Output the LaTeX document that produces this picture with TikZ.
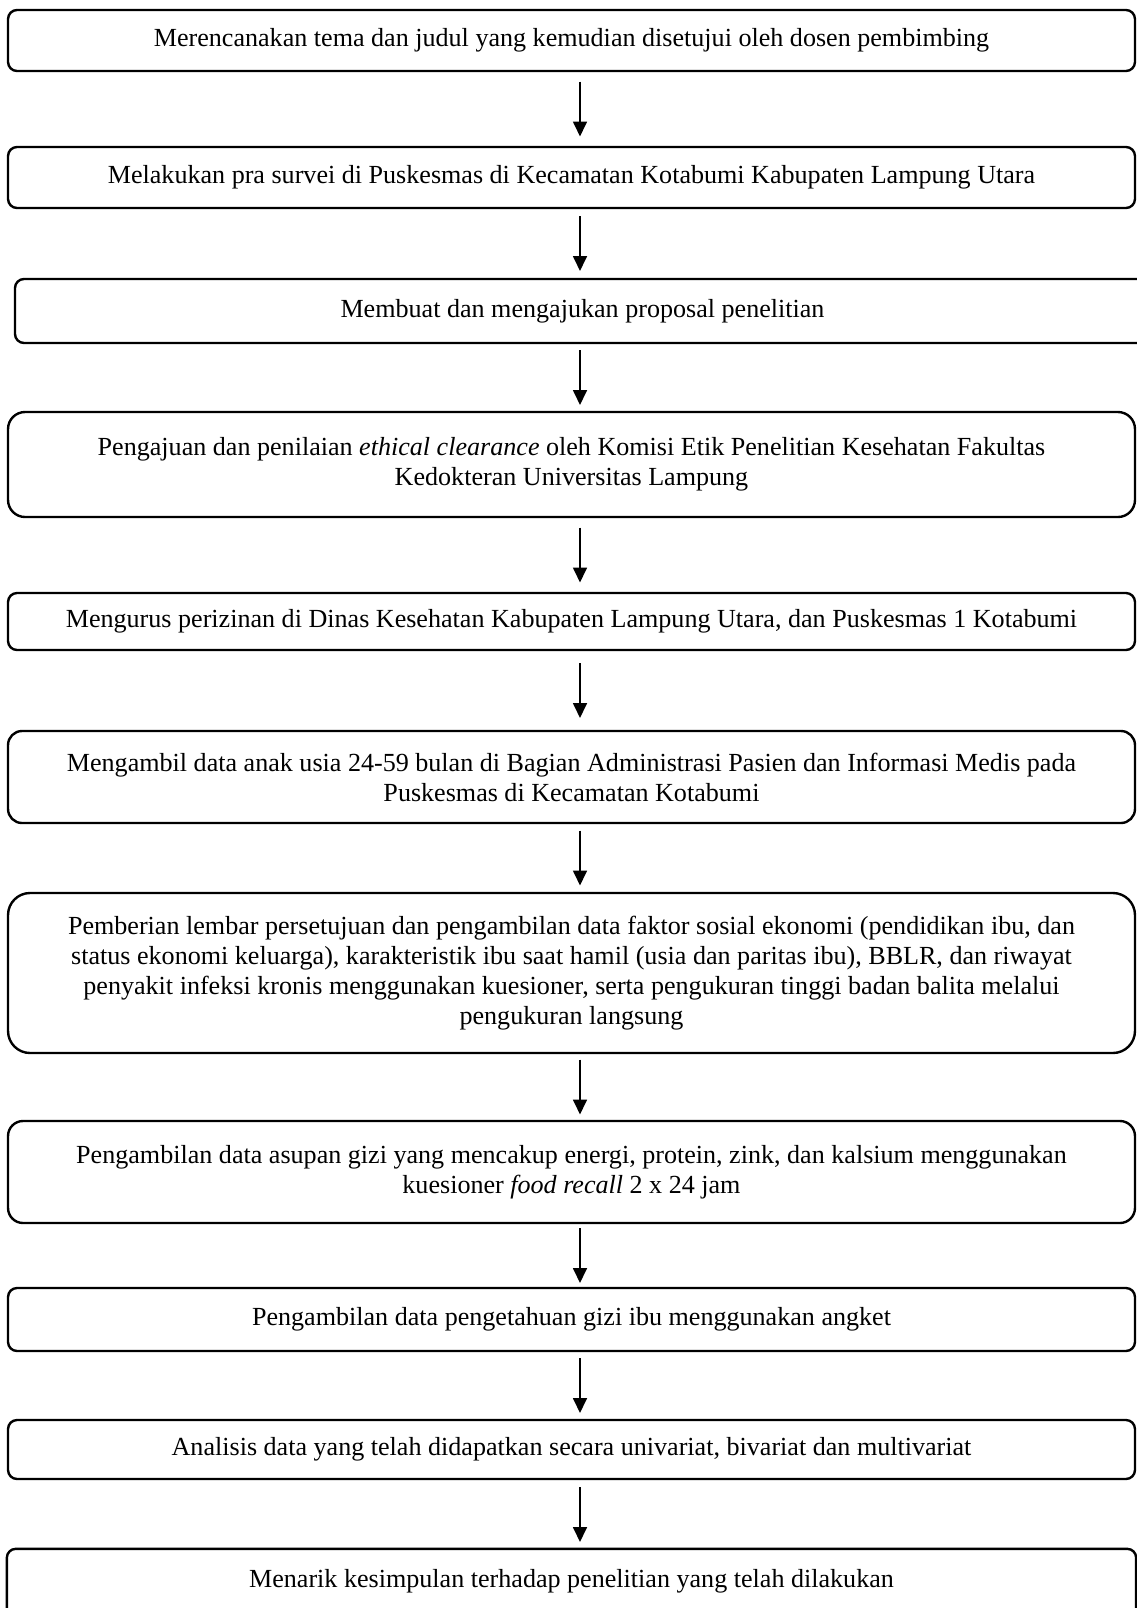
\documentclass[tikz,border=0pt]{standalone}
\usepackage{fontspec}
\setmainfont{Liberation Serif}
\usetikzlibrary{calc,arrows.meta}
\begin{document}
\begin{tikzpicture}[x=0.46pt,y=-0.46pt,
  box/.style={draw, line width=1.1pt, align=center, inner sep=0pt,
    font=\fontsize{12pt}{13.8pt}\selectfont, minimum width=518.4pt},
  arr/.style={line width=0.92pt, -{Triangle[width=6.4pt,length=6.9pt]}}]
\useasboundingbox (0,0) rectangle (1137,1608);
\clip (0,0) rectangle (1137,1608);
\coordinate (ax) at (580,0);
\node[box, minimum height=28.06pt, rounded corners=4.14pt] (b1) at (571.5,40.5)
  {Merencanakan tema dan judul yang kemudian disetujui oleh dosen pembimbing};
\node[box, minimum height=28.06pt, rounded corners=4.14pt] (b2) at (571.5,177.5)
  {Melakukan pra survei di Puskesmas di Kecamatan Kotabumi Kabupaten Lampung Utara};
\node[box, minimum width=522.1pt, minimum height=29.44pt, rounded corners=4.14pt] (b3) at (582.5,311)
  {Membuat dan mengajukan proposal penelitian};
\node[box, minimum height=48.3pt, rounded corners=7.82pt] (b4) at (571.5,464.5)
  {Pengajuan dan penilaian \textit{ethical clearance} oleh Komisi Etik Penelitian Kesehatan Fakultas\\Kedokteran Universitas Lampung};
\node[box, minimum height=26.22pt, rounded corners=4.14pt] (b5) at (571.5,621.5)
  {Mengurus perizinan di Dinas Kesehatan Kabupaten Lampung Utara, dan Puskesmas 1 Kotabumi};
\node[box, minimum height=42.32pt, rounded corners=6.44pt] (b6) at (571.5,777)
  {Mengambil data anak usia 24-59 bulan di Bagian Administrasi Pasien dan Informasi Medis pada\\Puskesmas di Kecamatan Kotabumi};
\node[box, minimum height=73.6pt, rounded corners=10.12pt] (b7) at (571.5,973)
  {Pemberian lembar persetujuan dan pengambilan data faktor sosial ekonomi (pendidikan ibu, dan\\status ekonomi keluarga), karakteristik ibu saat hamil (usia dan paritas ibu), BBLR, dan riwayat\\penyakit infeksi kronis menggunakan kuesioner, serta pengukuran tinggi badan balita melalui\\pengukuran langsung};
\node[box, minimum height=46.92pt, rounded corners=6.9pt] (b8) at (571.5,1172)
  {Pengambilan data asupan gizi yang mencakup energi, protein, zink, dan kalsium menggunakan\\kuesioner \textit{food recall} 2 x 24 jam};
\node[box, minimum height=28.98pt, rounded corners=4.14pt] (b9) at (571.5,1319.5)
  {Pengambilan data pengetahuan gizi ibu menggunakan angket};
\node[box, minimum height=27.14pt, rounded corners=4.14pt] (b10) at (571.5,1449.5)
  {Analisis data yang telah didapatkan secara univariat, bivariat dan multivariat};
\node[box, draw=none, minimum height=28.52pt] (b11) at (571.5,1581)
  {Menarik kesimpulan terhadap penelitian yang telah dilakukan};
\draw[line width=1.1pt, rounded corners=4.14pt]
  ($(b11.south west)+(0,40)$) |- (b11.north east) -- ++(0,100);
\foreach \a/\b in {b1/b2,b2/b3,b3/b4,b4/b5,b5/b6,b6/b7,b7/b8,b8/b9,b9/b10,b10/b11}
  \draw[arr] ($(\a.south -| ax)!0.5!(\b.north -| ax)+(0,-27.5)$) -- ++(0,55);
\end{tikzpicture}
\end{document}
